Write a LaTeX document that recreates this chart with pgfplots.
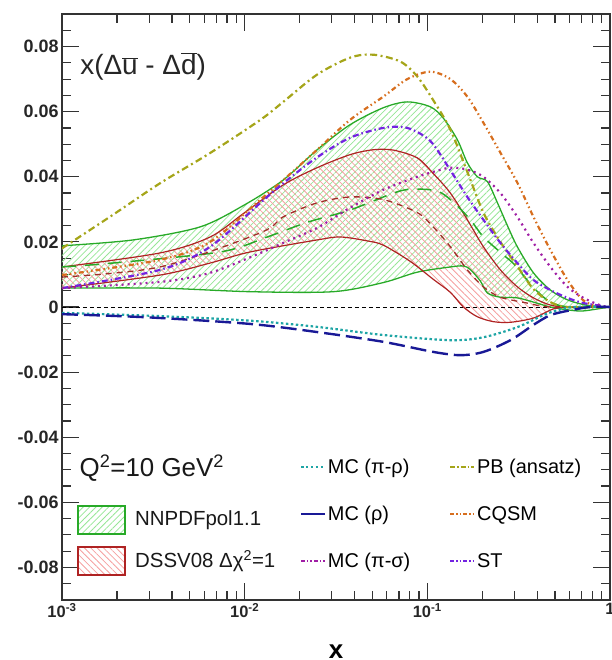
\documentclass[border=0pt]{standalone}
\usepackage{fontspec}
\setmainfont{Liberation Sans}
\usepackage{pgfplots}
\pgfplotsset{compat=1.18}
\usepgfplotslibrary{fillbetween}
\usetikzlibrary{patterns,patterns.meta}
\definecolor{nngreen}{RGB}{40,170,40}
\definecolor{nnhatch}{RGB}{150,230,150}
\definecolor{dsred}{RGB}{175,35,35}
\definecolor{dshatch}{RGB}{245,160,160}
\definecolor{dsbrown}{RGB}{160,45,40}
\definecolor{pbolive}{RGB}{165,165,25}
\definecolor{cqorange}{RGB}{215,110,30}
\definecolor{stviolet}{RGB}{115,35,225}
\definecolor{mcpurple}{RGB}{160,30,165}
\definecolor{mcteal}{RGB}{30,165,165}
\definecolor{mcnavy}{RGB}{25,25,150}
\newcommand{\ovl}[1]{\ensuremath{\overline{\mbox{#1}}}}
\begin{document}
\begin{tikzpicture}
\begin{axis}[
  scale only axis, width=548bp, height=586bp,
  xmode=log, xmin=1e-3, xmax=1, ymin=-0.09, ymax=0.09,
  axis line style={line width=1.4pt, black!80},
  tick style={line width=1.2pt, black!80},
  tick align=inside,
  major tick length=17bp, minor tick length=9bp,
  xtick={0.001,0.01,0.1,1},
  xticklabels={10\textsuperscript{-3},10\textsuperscript{-2},10\textsuperscript{-1},1},
  minor xtick={0.002,0.003,0.004,0.005,0.006,0.007,0.008,0.009,0.02,0.03,0.04,0.05,0.06,0.07,0.08,0.09,0.2,0.3,0.4,0.5,0.6,0.7,0.8,0.9},
  ytick={-0.08,-0.06,-0.04,-0.02,0,0.02,0.04,0.06,0.08},
  yticklabels={-0.08,-0.06,-0.04,-0.02,0,0.02,0.04,0.06,0.08},
  minor ytick={-0.085,-0.075,-0.07,-0.065,-0.055,-0.05,-0.045,-0.035,-0.03,-0.025,-0.015,-0.01,-0.005,0.005,0.01,0.015,0.025,0.03,0.035,0.045,0.05,0.055,0.065,0.07,0.075,0.085},
  xticklabel style={font=\bfseries\fontsize{16.5}{18}\selectfont, text=black!85},
  yticklabel style={font=\bfseries\fontsize{18}{20}\selectfont, text=black!85},
  xlabel={x},
  xlabel style={font=\bfseries\fontsize{26}{28}\selectfont, at={(axis description cs:0.5,-0.0887)}, anchor=center},
  legend columns=2,
  legend cell align=left,
  legend style={at={(rel axis cs:0.434,0.244)}, anchor=north west, draw=none, fill=none,
    font=\fontsize{20}{22}\selectfont, row sep=27pt, inner sep=0pt,
    /tikz/column 2/.style={column sep=37pt}},
  legend image code/.code={\draw[#1] (0pt,0pt) -- (24pt,0pt);},
]
% zero line
\addplot[forget plot, black, line width=0.8pt, dash pattern=on 4pt off 3pt] coordinates {(0.001,0) (1,0)};

% NNPDF band boundaries
\addplot[forget plot, name path=nnup, nngreen, line width=1.3pt, smooth] coordinates {
(0.001,0.0188) (0.00245,0.0206) (0.0057,0.0246) (0.0100,0.0314) (0.01626,0.0390)
(0.02495,0.0483) (0.0378,0.0560) (0.0574,0.0612) (0.0777,0.0630) (0.1038,0.0615)
(0.1224,0.0580) (0.146,0.0514) (0.1656,0.0443) (0.188,0.0400) (0.2133,0.0385)
(0.242,0.0320) (0.2744,0.0250) (0.311,0.0185) (0.381,0.0105) (0.472,0.0052)
(0.585,0.0022) (0.753,0.0005) (1.0,0)};
\addplot[forget plot, name path=nnlo, nngreen, line width=1.3pt, smooth] coordinates {
(0.001,0.0058) (0.00344,0.0058) (0.0107,0.0047) (0.0305,0.0047) (0.0574,0.0075)
(0.0881,0.0107) (0.1337,0.0123) (0.1575,0.0126) (0.172,0.0115) (0.195,0.0080)
(0.2133,0.0043) (0.2512,0.0030) (0.311,0.0028) (0.381,0.0015) (0.472,0.0000)
(0.608,-0.0010) (0.716,-0.0012) (0.921,-0.0003) (1.0,0)};
\addplot[forget plot, pattern={Lines[angle=45,distance=4.5pt,line width=0.8pt]}, pattern color=nnhatch] fill between[of=nnup and nnlo];

% DSSV band boundaries
\addplot[forget plot, name path=dsup, dsred, line width=1.2pt, smooth] coordinates {
(0.001,0.0123) (0.00344,0.0166) (0.00647,0.0215) (0.0100,0.0290) (0.01626,0.0375)
(0.02495,0.0428) (0.0378,0.0468) (0.0506,0.0483) (0.0651,0.0482) (0.0881,0.0458)
(0.1078,0.0410) (0.1337,0.0350) (0.1656,0.0268) (0.2027,0.0185) (0.2512,0.0114)
(0.311,0.0062) (0.381,0.0028) (0.472,0.0006) (0.585,0.0) (1.0,0)};
\addplot[forget plot, name path=dslo, dsred, line width=1.2pt, smooth] coordinates {
(0.001,0.0058) (0.00344,0.0098) (0.00647,0.0135) (0.0107,0.0169) (0.02495,0.0206)
(0.0334,0.0215) (0.0469,0.0203) (0.0574,0.0190) (0.0807,0.0140) (0.1078,0.0085)
(0.1337,0.0045) (0.1575,0.0000) (0.188,-0.0030) (0.230,-0.0045) (0.285,-0.0047)
(0.381,-0.0034) (0.490,-0.0006) (0.608,0) (1.0,0)};
\addplot[forget plot, pattern={Lines[angle=-45,distance=4.5pt,line width=0.8pt]}, pattern color=dshatch] fill between[of=dsup and dslo];

% NNPDF central
\addplot[forget plot, nngreen, line width=1.5pt, dash pattern=on 14pt off 9pt, smooth] coordinates {
(0.001,0.0123) (0.0019,0.0135) (0.00735,0.0169) (0.01328,0.0215) (0.02198,0.0260)
(0.0378,0.0298) (0.0686,0.0354) (0.0880,0.0362) (0.1150,0.0355) (0.1400,0.0320)
(0.172,0.0268) (0.203,0.0215) (0.261,0.0160) (0.300,0.0130) (0.381,0.0060)
(0.472,0.0015) (0.60,0.0) (1.0,0)};
% DSSV central
\addplot[forget plot, dsbrown, line width=1.3pt, dash pattern=on 6pt off 5pt, smooth] coordinates {
(0.001,0.0092) (0.00344,0.0123) (0.0122,0.0228) (0.01626,0.0277) (0.02495,0.0320)
(0.0378,0.0338) (0.0574,0.0330) (0.0881,0.0290) (0.1078,0.0246) (0.1337,0.0185)
(0.1656,0.0114) (0.2027,0.0062) (0.2512,0.0030) (0.353,0.0012) (0.472,0.0) (1.0,0)};

% PB (ansatz)
\addplot[forget plot, pbolive, line width=2.2pt, dash pattern=on 7pt off 3.5pt on 2pt off 3.5pt, smooth] coordinates {
(0.001,0.0180) (0.00183,0.0277) (0.00344,0.0380) (0.00647,0.0473) (0.0122,0.0575)
(0.01626,0.0630) (0.02495,0.0714) (0.0378,0.0766) (0.0506,0.0775) (0.0711,0.0754)
(0.0881,0.0708) (0.1078,0.0635) (0.1337,0.0545) (0.1656,0.0415) (0.2027,0.0290)
(0.2512,0.0200) (0.311,0.0125) (0.381,0.0055) (0.472,0.0015) (0.585,0.0) (1.0,0)};
% CQSM
\addplot[forget plot, cqorange, line width=2.2pt, dash pattern=on 5pt off 3pt on 1.5pt off 3pt on 1.5pt off 3pt, smooth] coordinates {
(0.001,0.0098) (0.00344,0.0145) (0.00647,0.0200) (0.0122,0.0330) (0.01626,0.0390)
(0.02495,0.0483) (0.0378,0.0575) (0.0574,0.0646) (0.0777,0.0700) (0.1038,0.0723)
(0.1337,0.0700) (0.1656,0.0646) (0.2027,0.0566) (0.2512,0.0474) (0.311,0.0382)
(0.381,0.0277) (0.472,0.0175) (0.585,0.0083) (0.716,0.0020) (0.887,0.0) (1.0,0)};
% ST
\addplot[forget plot, stviolet, line width=2.2pt, dash pattern=on 6pt off 3pt on 1.5pt off 3pt, smooth] coordinates {
(0.001,0.0058) (0.00344,0.0114) (0.00647,0.0185) (0.0122,0.0320) (0.01626,0.0380)
(0.02495,0.0460) (0.0378,0.0520) (0.0574,0.0550) (0.0777,0.0550) (0.1038,0.0510)
(0.1337,0.0420) (0.1656,0.0338) (0.2027,0.0268) (0.2512,0.0197) (0.311,0.0135)
(0.381,0.0083) (0.472,0.0052) (0.585,0.0028) (0.716,0.0012) (1.0,0)};
% MC (pi-sigma)
\addplot[forget plot, mcpurple, line width=2.2pt, dash pattern=on 2pt off 4pt, smooth] coordinates {
(0.001,0.0058) (0.00344,0.0077) (0.00647,0.0105) (0.0122,0.0166) (0.01626,0.0197)
(0.02495,0.0243) (0.0378,0.0305) (0.0574,0.0360) (0.0881,0.0400) (0.1078,0.0415)
(0.1337,0.0428) (0.1656,0.0422) (0.2027,0.0400) (0.2512,0.0350) (0.311,0.0277)
(0.381,0.0197) (0.472,0.0123) (0.585,0.0062) (0.716,0.0028) (0.887,0.0005) (1.0,0)};
% MC (pi-rho)
\addplot[forget plot, mcteal, line width=2.2pt, dash pattern=on 2.5pt off 2.5pt, smooth] coordinates {
(0.001,-0.0018) (0.00344,-0.0028) (0.0107,-0.0042) (0.02495,-0.0061) (0.0574,-0.0086)
(0.1337,-0.0102) (0.2027,-0.0093) (0.311,-0.0062) (0.432,-0.0025) (0.515,-0.0010)
(0.64,0) (1.0,0)};
% MC (rho)
\addplot[forget plot, mcnavy, line width=2.4pt, dash pattern=on 16pt off 6pt, smooth] coordinates {
(0.001,-0.0022) (0.003,-0.0032) (0.0107,-0.0052) (0.02495,-0.0077) (0.0574,-0.0107)
(0.1078,-0.0138) (0.1517,-0.0148) (0.2027,-0.0138) (0.285,-0.0102) (0.381,-0.0055)
(0.472,-0.0025) (0.608,-0.0010) (0.78,0) (1.0,0)};

% legend of the model curves (row by row)
\addlegendimage{mcteal, line width=2pt, dash pattern=on 2.5pt off 2.5pt}
\addlegendentry{MC (π-ρ)}
\addlegendimage{pbolive, line width=2pt, dash pattern=on 5pt off 2pt on 1.5pt off 2pt}
\addlegendentry{PB (ansatz)}
\addlegendimage{mcnavy, line width=2pt}
\addlegendentry{MC (ρ)}
\addlegendimage{cqorange, line width=2pt, dash pattern=on 4pt off 2pt on 1.5pt off 2pt on 1.5pt off 2pt}
\addlegendentry{CQSM}
\addlegendimage{mcpurple, line width=2pt, dash pattern=on 4pt off 2pt on 1.5pt off 2pt on 1.5pt off 2pt}
\addlegendentry{MC (π-σ)}
\addlegendimage{stviolet, line width=2pt, dash pattern=on 4pt off 2pt on 1.5pt off 2pt on 1.5pt off 2pt}
\addlegendentry{ST}

% texts and band legend
\node[anchor=west, font=\fontsize{28}{30}\selectfont, text=black!85] at (rel axis cs:0.027,0.911) {x(Δ\ovl{u} - Δ\ovl{d})};
\node[anchor=base west, inner sep=0pt, font=\fontsize{26}{28}\selectfont, text=black!90] at (rel axis cs:0.032,0.2116) {Q\textsuperscript{2}=10 GeV\textsuperscript{2}};
\draw[nngreen, line width=1.2pt, pattern={Lines[angle=45,distance=4.5pt,line width=0.8pt]}, pattern color=nnhatch] (rel axis cs:0.0292,0.1126) rectangle (rel axis cs:0.1150,0.1604);
\draw[dsred, line width=1.2pt, pattern={Lines[angle=-45,distance=4.5pt,line width=0.8pt]}, pattern color=dshatch] (rel axis cs:0.0292,0.0427) rectangle (rel axis cs:0.1150,0.0904);
\node[anchor=west, inner sep=0pt, font=\fontsize{20.5}{22}\selectfont, text=black!90] at (rel axis cs:0.1332,0.1365) {NNPDFpol1.1};
\node[anchor=west, inner sep=0pt, font=\fontsize{20.5}{22}\selectfont, text=black!90] at (rel axis cs:0.1332,0.0666) {DSSV08 Δχ\textsuperscript{2}=1};
\coordinate (BL) at (rel axis cs:0,0);
\coordinate (TR) at (rel axis cs:1,1);
\end{axis}
\pgfresetboundingbox
\path[use as bounding box] ([shift={(-62bp,-60bp)}]BL) rectangle ([shift={(2bp,14bp)}]TR);
\end{tikzpicture}
\end{document}
